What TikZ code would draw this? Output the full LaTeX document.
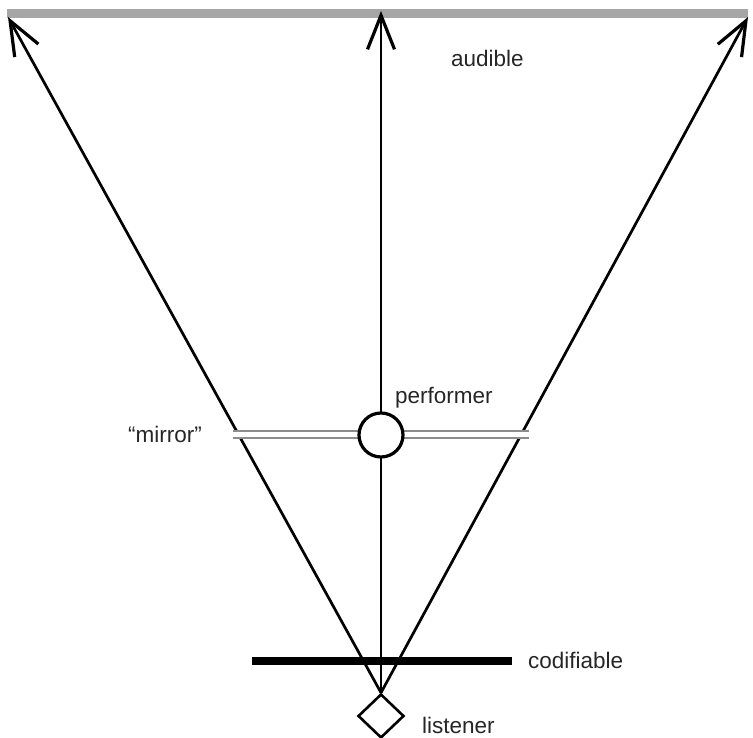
\documentclass[tikz,border=0pt]{standalone}
\usepackage{fontspec}
\setmainfont{Liberation Sans}
\usetikzlibrary{arrows.meta,shapes.geometric}
\begin{document}
\begin{tikzpicture}[x=1pt,y=-1pt,
  ray/.style={line width=2.7pt,-{Straight Barb[length=34pt,width=27pt,line width=3.2pt]}},
  lbl/.style={anchor=base west,inner sep=0pt,text=black!85,font=\fontsize{22.5}{26}\selectfont}]
\useasboundingbox (0,0) rectangle (753,738);
\fill[black!35] (7,9) rectangle (748,18);
\coordinate (tl) at (8,17);
\coordinate (tc) at (381,11);
\coordinate (tr) at (748,17);
\coordinate (ml) at (233,434.5);
\coordinate (mr) at (529,434.5);
\node[diamond,draw,line width=2.6pt,minimum width=46pt,minimum height=44pt,inner sep=0pt,fill=white] (lis) at (381,716) {};
\draw[ray] (lis.north) -- (tl);
\draw[ray] (lis.north) -- (tc);
\draw[ray] (lis.north) -- (tr);
\draw[black!45,line width=2.2pt,double=white,double distance=5.5pt] (ml) -- (mr);
\node[circle,draw,line width=3.2pt,minimum size=44pt,inner sep=0pt,fill=white] (perf) at (381,435) {};
\draw[line width=7.5pt] (252,661) -- (512,661);
\node[lbl] (aud) at (451,67) {audible};
\node[lbl] (mir) at (128,442) {“mirror”};
\node[lbl] (per) at (395,403) {performer};
\node[lbl] (cod) at (528,668) {codifiable};
\node[lbl] (lst) at (422,733) {listener};
\end{tikzpicture}
\end{document}
